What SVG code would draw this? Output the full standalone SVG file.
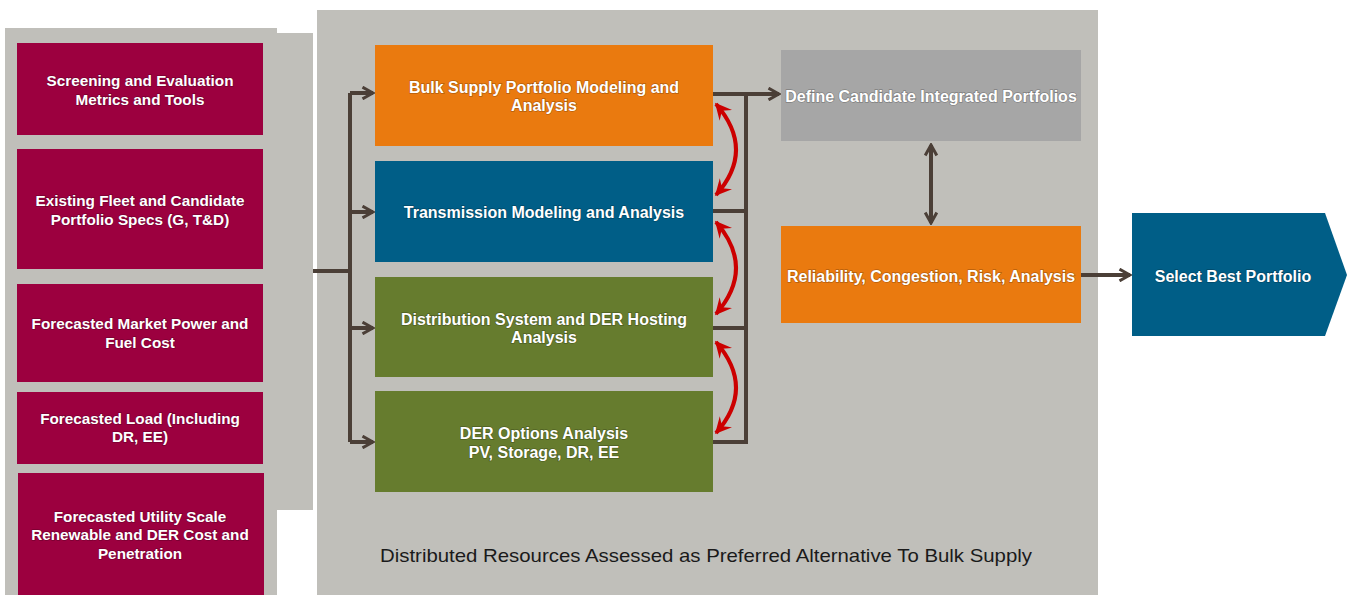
<svg xmlns="http://www.w3.org/2000/svg" width="1347" height="595" viewBox="0 0 1347 595">
<style>
.t{font-family:"Liberation Sans",Arial,sans-serif;font-weight:bold;font-size:16px;fill:#fff;text-anchor:middle;stroke:#000;stroke-opacity:0.25;stroke-width:1.4px;paint-order:stroke}
.l{font-size:15.3px}
.red{fill:#9C003F}
.ln{stroke:#4B3F37;stroke-width:4;fill:none}
.rc{stroke:#CC0000;stroke-width:4;fill:none}
</style>
<defs>
<marker id="ah" viewBox="0 0 12 12" refX="10" refY="6" markerWidth="14" markerHeight="14" markerUnits="userSpaceOnUse" orient="auto-start-reverse">
<path d="M1,1 L10,6 L1,11" fill="none" stroke="#4B3F37" stroke-width="2.6"/>
</marker>
<marker id="rh" viewBox="0 0 12 12" refX="10" refY="6" markerWidth="18" markerHeight="18" markerUnits="userSpaceOnUse" orient="auto-start-reverse">
<path d="M0,0.5 L11,6 L0,11.5 L4,6 Z" fill="#CC0000"/>
</marker>
</defs>
<rect width="1347" height="595" fill="#fff"/>
<path d="M5,28 H277 V33 H313 V510 H277 V595 H5 Z" fill="#C0BFBA"/>
<rect x="317" y="10" width="781" height="585" fill="#C0BFBA"/>
<g id="n1"><rect class="red" x="17" y="43" width="246" height="92"/><text class="t l" x="140" y="86">Screening and Evaluation</text><text class="t l" x="140" y="105">Metrics and Tools</text></g>
<g id="n2"><rect class="red" x="17" y="149" width="246" height="120"/><text class="t l" x="140" y="206">Existing Fleet and Candidate</text><text class="t l" x="140" y="225">Portfolio Specs (G, T&amp;D)</text></g>
<g id="n3"><rect class="red" x="17" y="284" width="246" height="98"/><text class="t l" x="140" y="329">Forecasted Market Power and</text><text class="t l" x="140" y="348">Fuel Cost</text></g>
<g id="n4"><rect class="red" x="17" y="392" width="246" height="72"/><text class="t l" x="140" y="424">Forecasted Load (Including</text><text class="t l" x="140" y="442">DR, EE)</text></g>
<g id="n5"><rect class="red" x="18" y="473" width="246" height="130"/><text class="t l" x="140" y="522">Forecasted Utility Scale</text><text class="t l" x="140" y="540">Renewable and DER Cost and</text><text class="t l" x="140" y="559">Penetration</text></g>
<g id="bulk"><rect x="375" y="45" width="338" height="101" fill="#EA7A0F"/><text class="t" x="544" y="93">Bulk Supply Portfolio Modeling and</text><text class="t" x="544" y="111">Analysis</text></g>
<g id="trans"><rect x="375" y="161" width="338" height="101" fill="#005E87"/><text class="t" x="544" y="218">Transmission Modeling and Analysis</text></g>
<g id="dist"><rect x="375" y="277" width="338" height="100" fill="#667C2E"/><text class="t" x="544" y="325">Distribution System and DER Hosting</text><text class="t" x="544" y="343">Analysis</text></g>
<g id="der"><rect x="375" y="391" width="338" height="101" fill="#667C2E"/><text class="t" x="544" y="439">DER Options Analysis</text><text class="t" x="544" y="458">PV, Storage, DR, EE</text></g>
<g id="define"><rect x="781" y="50" width="300" height="91" fill="#A6A6A6"/><text class="t" x="931" y="102">Define Candidate Integrated Portfolios</text></g>
<g id="rel"><rect x="781" y="226" width="300" height="97" fill="#EA7A0F"/><text class="t" x="931" y="282">Reliability, Congestion, Risk, Analysis</text></g>
<g id="select"><path d="M1132,213 H1325 L1347,275 L1325,336 H1132 Z" fill="#005E87"/><text class="t" x="1233" y="282">Select Best Portfolio</text></g>
<g id="connectors">
<path class="ln" d="M313,271 H350 M350,93 V442"/>
<path class="ln" d="M350,93 H373" marker-end="url(#ah)"/>
<path class="ln" d="M350,212 H373" marker-end="url(#ah)"/>
<path class="ln" d="M350,328 H373" marker-end="url(#ah)"/>
<path class="ln" d="M350,442 H373" marker-end="url(#ah)"/>
<path class="ln" d="M713,94 H779" marker-end="url(#ah)"/>
<path class="ln" d="M713,211 H746 M713,328 H746 M713,442 H746 M746,94 V444"/>
<path class="ln" d="M931,145 V223" marker-start="url(#ah)" marker-end="url(#ah)"/>
<path class="ln" d="M1081,275 H1130" marker-end="url(#ah)"/>
<path class="rc" d="M716,104 Q756,150 716,195" marker-start="url(#rh)" marker-end="url(#rh)"/>
<path class="rc" d="M716,222 Q756,268 716,314" marker-start="url(#rh)" marker-end="url(#rh)"/>
<path class="rc" d="M716,342 Q756,388 716,433" marker-start="url(#rh)" marker-end="url(#rh)"/>
</g>
<text x="706" y="562" font-family="'Liberation Sans Narrow','Liberation Sans',Arial,sans-serif" font-size="19" fill="#1a1a1a" text-anchor="middle" textLength="652" lengthAdjust="spacingAndGlyphs">Distributed Resources Assessed as Preferred Alternative To Bulk Supply</text>
</svg>
